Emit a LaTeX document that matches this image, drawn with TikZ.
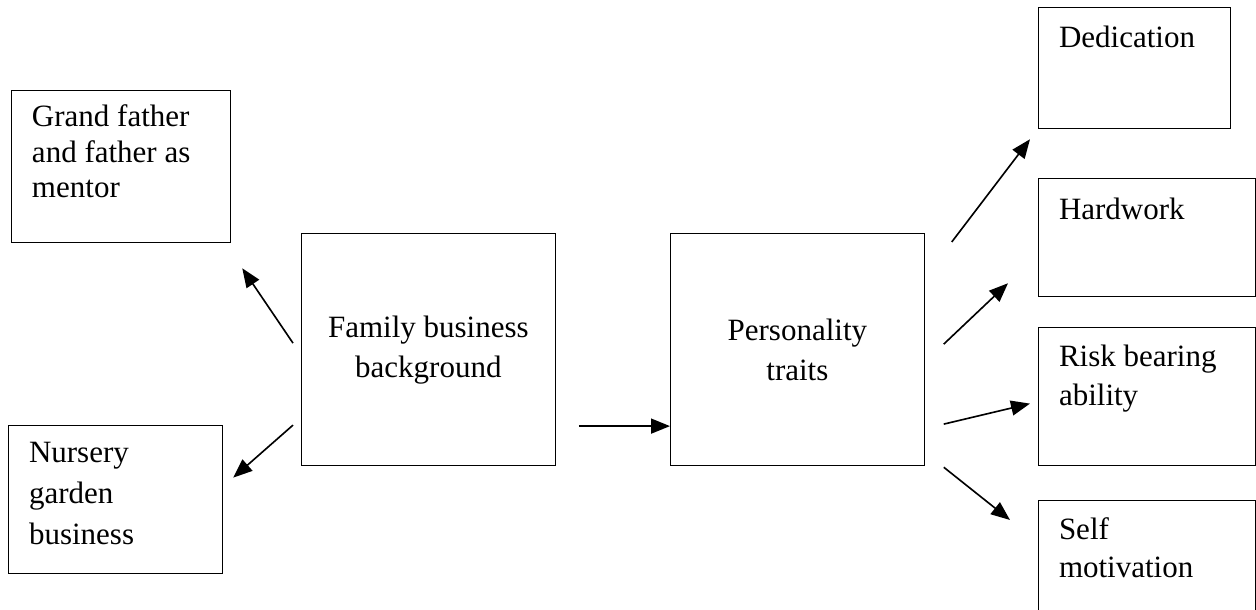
\documentclass[tikz,border=0pt]{standalone}
\usepackage{fontspec}
\setmainfont{Liberation Serif}
\usetikzlibrary{arrows.meta,positioning}
\tikzset{
	boxnode/.style = {draw=black, line width=0.5pt, inner sep=0pt, anchor=north west},
	midnode/.style = {boxnode, align=center, minimum width=101.4pt, minimum height=92.8pt,
		font=\fontsize{12.4pt}{16pt}\selectfont},
	sidenode/.style = {boxnode, minimum width=86.8pt},
	boxtext/.style = {anchor=base west, inner sep=0pt, text width=80pt, align=flush left,
		xshift=8.2pt},
	link/.style = {-{Triangle[length=7.6pt,width=6pt]}, line width=0.65pt}
}
\begin{document}
\begin{tikzpicture}[x=0.4pt,y=-0.4pt,font=\fontsize{12.4pt}{15.6pt}\selectfont]
\useasboundingbox (0,0) rectangle (1256,610);
\node [boxnode, minimum width=87.6pt, minimum height=60.8pt,
	label={[boxtext, yshift=-14.8pt, font=\fontsize{12.4pt}{14.2pt}\selectfont]north west:Grand father\\and father as\\mentor}] (mentor) at (11,90) {};
\node [boxnode, minimum width=85.6pt, minimum height=59.2pt,
	label={[boxtext, yshift=-15.2pt, font=\fontsize{12.4pt}{16.4pt}\selectfont]north west:Nursery\\garden\\business}] (nursery) at (8,425) {};
\node [midnode] (family) at (301,233) {Family business\\background};
\node [midnode] (traits) at (670,233) {Personality\\traits};
\node [boxnode, minimum width=76.8pt, minimum height=48.4pt,
	label={[boxtext, yshift=-16.4pt]north west:Dedication}] (dedication) at (1038,7) {};
\node [sidenode, minimum height=47.2pt,
	label={[boxtext, yshift=-16.8pt]north west:Hardwork}] (hardwork) at (1038,178) {};
\node [sidenode, minimum height=55.2pt,
	label={[boxtext, yshift=-16pt]north west:Risk bearing\\ability}] (risk) at (1038,327) {};
\node [sidenode, minimum height=60pt,
	label={[boxtext, yshift=-16pt, font=\fontsize{12.4pt}{15.2pt}\selectfont]north west:Self\\motivation}] (selfmot) at (1038,500) {};

\draw [link] ([shift={(-8,-6.5)}]family.west) -- ([shift={(11,25)}]mentor.south east);
\draw [link] ([shift={(-8,75.5)}]family.west) -- ([shift={(10,-22)}]nursery.east);
\coordinate (fb) at ([shift={(23,76.5)}]family.east);
\draw [link] (fb) -- (fb -| traits.west);
\draw [link] ([shift={(27,9)}]traits.north east) -- ([shift={(-8,10)}]dedication.south west);
\draw [link] ([shift={(19,-5.5)}]traits.east) -- ([shift={(-30,-14)}]hardwork.south west);
\draw [link] ([shift={(19,74.5)}]traits.east) -- ([shift={(-8,7)}]risk.west);
\draw [link] ([shift={(19,1)}]traits.south east) -- ([shift={(-28,20)}]selfmot.north west);
\end{tikzpicture}
\end{document}
